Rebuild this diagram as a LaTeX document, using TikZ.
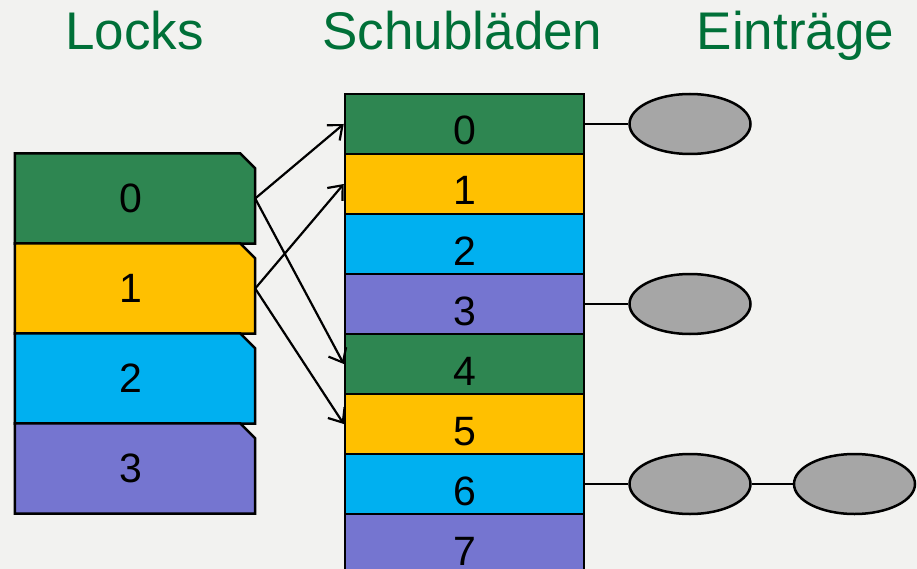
\documentclass[tikz,border=0pt]{standalone}
\usepackage{fontspec}
\setmainfont{Liberation Sans}
\usetikzlibrary{calc,arrows.meta,shapes.geometric}

\definecolor{bg}{RGB}{242,242,240}
\definecolor{titlegreen}{RGB}{0,112,56}
\definecolor{cgreen}{RGB}{46,134,81}
\definecolor{cyellow}{RGB}{255,192,0}
\definecolor{cblue}{RGB}{0,176,240}
\definecolor{cpurple}{RGB}{117,117,208}
\definecolor{entrygray}{RGB}{166,166,166}

\tikzset{
  heading/.style={text=titlegreen, font=\fontsize{53}{60}\selectfont, anchor=base},
  lockbox/.style={draw=none, minimum width=240, minimum height=90, inner sep=0pt,
    font=\fontsize{41}{48}\selectfont},
  lockedge/.style={draw=black, line width=2.5pt, line join=miter},
  drawer/.style={draw=black, line width=2.5pt, minimum width=239, minimum height=60,
    inner sep=0pt, text height=48pt, text depth=6pt, font=\fontsize{41}{48}\selectfont},
  entry/.style={ellipse, draw=black, line width=2.5pt, fill=entrygray,
    minimum width=121, minimum height=60, inner sep=0pt},
  link/.style={draw=black, line width=2.5pt},
  lockarrow/.style={draw=black, line width=2.2pt,
    -{Straight Barb[length=12pt,width=20pt,line width=2.2pt]}}
}

\begin{document}
\begin{tikzpicture}[x=1pt,y=-1pt]
  \fill[bg] (0,0) rectangle (917,569);
  \useasboundingbox (0,0) rectangle (917,569);

  % column headings
  \node[heading] (hlocks) at (134.5,50) {Locks};
  \node[heading] (hdrawers) at (462.5,50) {Schubläden};
  \node[heading] (hentries) at (795.5,50) {Einträge};

  % locks with a chamfered top right corner
  \foreach \i/\c in {0/cgreen,1/cyellow,2/cblue,3/cpurple}{
    \node[lockbox] (lock\i) at (135,198.5+90*\i) {};
    \filldraw[lockedge, fill=\c]
      (lock\i.south west) -- (lock\i.north west)
      -- ($(lock\i.north east)+(-15,0)$) -- ($(lock\i.north east)+(0,15)$)
      -- (lock\i.south east) -- cycle;
    \node[font=\fontsize{41}{48}\selectfont] (locklabel\i) at (131,198.5+90*\i) {\i};
  }

  % drawers
  \foreach \i/\c in {0/cgreen,1/cyellow,2/cblue,3/cpurple,4/cgreen,5/cyellow,6/cblue,7/cpurple}{
    \node[drawer, fill=\c] (d\i) at (464.5,124+60*\i) {\i};
  }

  % entries
  \node[entry] (e0) at (690,124) {};
  \node[entry] (e3) at (690,304) {};
  \node[entry] (e6a) at (690,484) {};
  \node[entry] (e6b) at (854.5,484) {};

  \draw[link] (d0.east) -- (e0.west);
  \draw[link] (d3.east) -- (e3.west);
  \draw[link] (d6.east) -- (e6a.west);
  \draw[link] (e6a.east) -- (e6b.west);

  % lock to drawer mapping
  \draw[lockarrow] (lock0.east) -- (d0.west);
  \draw[lockarrow] (lock0.east) -- (d4.west);
  \draw[lockarrow] (lock1.east) -- (d1.west);
  \draw[lockarrow] (lock1.east) -- (d5.west);
\end{tikzpicture}
\end{document}
